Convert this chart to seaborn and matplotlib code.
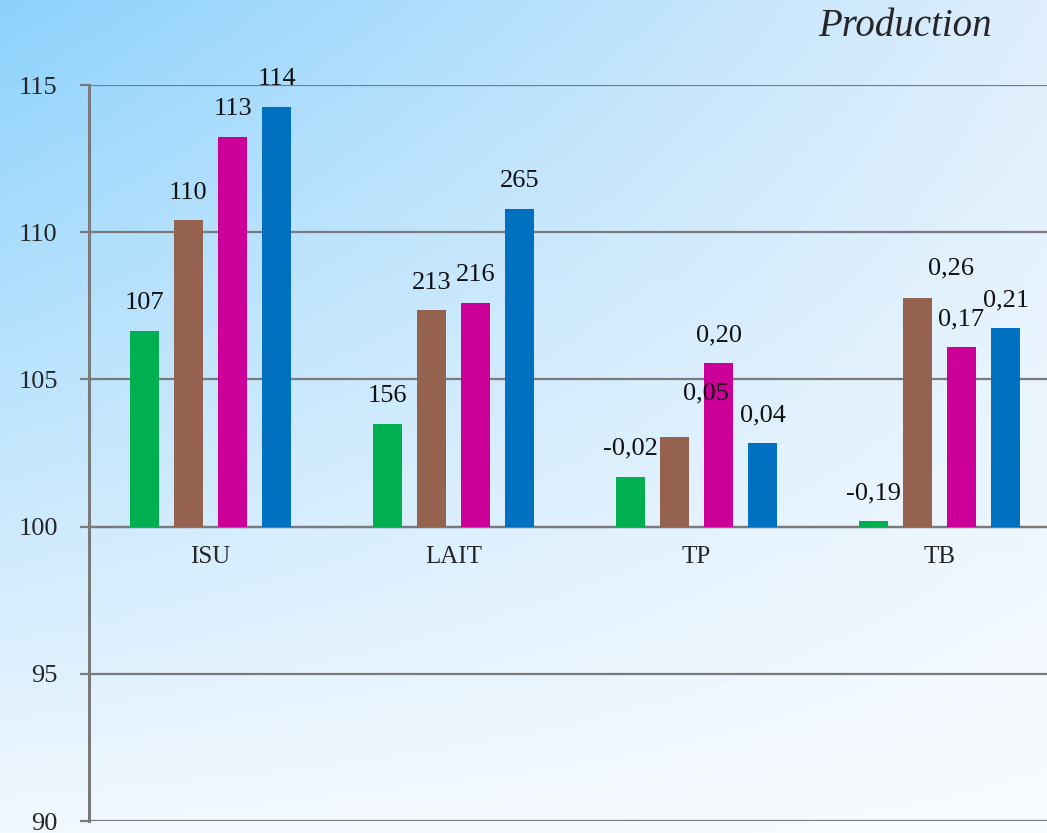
import numpy as np
import pandas as pd
import matplotlib
matplotlib.use("Agg")
import matplotlib.pyplot as plt
import seaborn as sns

sns.set_theme(style="white")
plt.rcParams["font.family"] = ["Liberation Serif", "DejaVu Serif"]

## data
categories = ["ISU", "LAIT", "TP", "TB"]
series = ["S1", "S2", "S3", "S4"]
vals_s1 = [106.65, 103.5, 101.7, 100.2]
vals_s2 = [110.4, 107.35, 103.05, 107.75]
vals_s3 = [113.25, 107.6, 105.55, 106.1]
vals_s4 = [114.25, 110.8, 102.85, 106.75]
labels_s1 = ["107", "156", "-0,02", "-0,19"]
labels_s2 = ["110", "213", "0,05", "0,26"]
labels_s3 = ["113", "216", "0,20", "0,17"]
labels_s4 = ["114", "265", "0,04", "0,21"]
yticks = [90, 95, 100, 105, 110, 115]

base = 100
colors = ["#00B050", "#956250", "#CC0099", "#0070C0"]

rows = []
for s, vals in zip(series, [vals_s1, vals_s2, vals_s3, vals_s4]):
    for c, v in zip(categories, vals):
        rows.append({"cat": c, "serie": s, "val": v - base})
df = pd.DataFrame(rows)
all_labels = [labels_s1, labels_s2, labels_s3, labels_s4]

## figure + gradient background
fig = plt.figure(figsize=(10.47, 8.33), dpi=100)
bg = fig.add_axes([0, 0, 1, 1], zorder=-10)
tl = np.array([141, 210, 252]) / 255
tr = np.array([222, 238, 252]) / 255
bl = np.array([242, 248, 255]) / 255
br = np.array([249, 252, 255]) / 255
yy, xx = np.mgrid[0:1:200j, 0:1:200j]
grad = ((1 - yy)[..., None] * ((1 - xx)[..., None] * tl + xx[..., None] * tr)
        + yy[..., None] * ((1 - xx)[..., None] * bl + xx[..., None] * br))
bg.imshow(grad, aspect="auto", extent=[0, 1, 0, 1], origin="upper")
bg.axis("off")

ax = fig.add_axes([89 / 1047, 12 / 833, 972 / 1047, 736 / 833])
ax.set_facecolor("none")

sns.barplot(data=df, x="cat", y="val", hue="serie", palette=colors,
            saturation=1, width=0.725, gap=0.36, legend=False, ax=ax,
            linewidth=0, zorder=3)

# value labels (a few are nudged as in the original)
nudge = {(1, 2): (23, 11), (1, 3): (24, 2)}
for i, cont in enumerate(ax.containers):
    for j, bar in enumerate(cont):
        dx, dy = nudge.get((i, j), (0, 0))
        ax.annotate(all_labels[i][j],
                    (bar.get_x() + bar.get_width() / 2, bar.get_height()),
                    xytext=(dx, 12 + dy), textcoords="offset points",
                    ha="center", va="bottom", fontsize=19, color="#111111",
                    zorder=5)

ax.set_xlim(-0.5, 3.5)
ax.set_ylim(-10, 15)
ax.set_yticks([t - base for t in yticks])
ax.set_yticklabels([str(t) for t in yticks])
ax.yaxis.grid(True, color="#7a7a7a", linewidth=1.6, zorder=1)
ax.set_axisbelow(True)

for s in ["top", "right"]:
    ax.spines[s].set_visible(False)
ax.spines["left"].set_color("#7a7a7a")
ax.spines["left"].set_linewidth(2.2)
ax.spines["bottom"].set_position(("data", 0))
ax.spines["bottom"].set_color("#7a7a7a")
ax.spines["bottom"].set_linewidth(1.6)

ax.set_xticks([0.5, 1.5, 2.5], minor=True)
ax.tick_params(axis="x", which="major", length=0, pad=14, labelsize=18)
ax.tick_params(axis="x", which="minor", length=7, width=1.6, color="#7a7a7a", direction="out")
ax.tick_params(axis="y", length=6.5, width=1.6, color="#7a7a7a", pad=16, labelsize=19,
               left=True)
ax.set_xlabel("")
ax.set_ylabel("")

fig.text(992 / 1047, 1 - 26 / 833, "Production", style="italic", ha="right",
         va="center", fontsize=28)

fig.savefig("out.png", dpi=100)
